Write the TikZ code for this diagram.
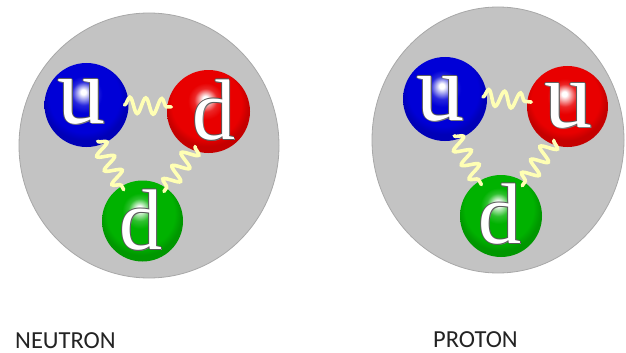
\documentclass[tikz,border=0pt]{standalone}
\usepackage{fontspec}
\newfontfamily\captionfont{Carlito}
\newfontfamily\quarkfont{Liberation Serif}
\usetikzlibrary{decorations.pathmorphing}

\definecolor{hadronfill}{RGB}{195,195,195}
\definecolor{hadronrim}{RGB}{168,168,168}
\definecolor{qblue}{RGB}{0,0,215}
\definecolor{qred}{RGB}{232,0,0}
\definecolor{qgreen}{RGB}{0,178,0}
\definecolor{gluoncol}{RGB}{255,255,180}
\definecolor{captioncol}{RGB}{35,35,35}

% glossy quark spheres: small white highlight above the centre
\pgfdeclareradialshading{qballblue}{\pgfqpoint{-2bp}{8bp}}{%
  color(0bp)=(white); color(1.5bp)=(white); color(7bp)=(qblue!85!white);
  color(11bp)=(qblue); color(21bp)=(qblue); color(25bp)=(qblue!85!black);
  color(50bp)=(qblue!85!black)}
\pgfdeclareradialshading{qballred}{\pgfqpoint{-2bp}{8bp}}{%
  color(0bp)=(white); color(1.5bp)=(white); color(7bp)=(qred!85!white);
  color(11bp)=(qred); color(21bp)=(qred); color(25bp)=(qred!85!black);
  color(50bp)=(qred!85!black)}
\pgfdeclareradialshading{qballgreen}{\pgfqpoint{-2bp}{8bp}}{%
  color(0bp)=(white); color(1.5bp)=(white); color(7bp)=(qgreen!82!white);
  color(11bp)=(qgreen); color(21bp)=(qgreen); color(25bp)=(qgreen!85!black);
  color(50bp)=(qgreen!85!black)}

% white quark letter with a thin dark rim and a drop shadow
\newcommand\qglyph[2]{{\quarkfont\fontsize{#1}{#1}\selectfont
  \makebox[0pt][l]{\smash{\kern1.4pt\raisebox{-1.4pt}{\color{black!50}#2}}}%
  \makebox[0pt][l]{\smash{\kern0.6pt{\color{black!65}#2}}}%
  \makebox[0pt][l]{\smash{\kern-0.6pt{\color{black!65}#2}}}%
  \makebox[0pt][l]{\smash{\raisebox{0.6pt}{\color{black!65}#2}}}%
  \makebox[0pt][l]{\smash{\raisebox{-0.6pt}{\color{black!65}#2}}}%
  {\color{white}#2}}}

\tikzset{
  hadron/.style={fill=hadronfill, draw=hadronrim, line width=0.8pt},
  quark/.style={circle, inner sep=0pt, outer sep=-4pt, shade, minimum size=#1},
  quark/.default=84pt,
  qletter/.style={inner sep=0pt},
  gluon/.style={draw=gluoncol, line width=3.6pt, line cap=round, decorate,
    decoration={snake, amplitude=8pt, segment length=16pt}},
  captiontext/.style={inner sep=0pt, anchor=base west, text=captioncol,
    text depth=0pt, font=\captionfont\fontsize{24.5}{28}\selectfont}
}

\begin{document}
\begin{tikzpicture}[x=1pt, y=-1pt]
\useasboundingbox (0,0) rectangle (626,353);

% ---------- neutron: u d d ----------
\filldraw[hadron] (149,145.5) ellipse [x radius=130pt, y radius=132.5pt];
\node[quark=84pt, shading=qballblue]  (nu)  at (86.5,105)   {};
\node[quark=83pt, shading=qballred]   (nd1) at (208.5,111.5) {};
\node[quark=81pt, shading=qballgreen] (nd2) at (142.5,221)  {};
\node[qletter] (nu-l)  at (81.5,101.5) {\qglyph{96}{u}};
\node[qletter] (nd1-l) at (213.5,110)  {\qglyph{86}{d}};
\node[qletter] (nd2-l) at (141,220)    {\qglyph{86}{d}};
\draw[gluon] (nu.0)   -- (nd1.173);
\draw[gluon] (nu.-73) -- (nd2.121);
\draw[gluon] (nd1.-111) -- (nd2.54);

% ---------- proton: u u d ----------
\filldraw[hadron] (498,140) ellipse [x radius=126pt, y radius=133pt];
\node[quark=84pt, shading=qballblue]  (pu1) at (445,99)    {};
\node[quark=81pt, shading=qballred]   (pu2) at (567.5,106.5) {};
\node[quark=82pt, shading=qballgreen] (pd)  at (501,216)   {};
\node[qletter] (pu1-l) at (440.5,98.5) {\qglyph{96}{u}};
\node[qletter] (pu2-l) at (568.5,105.5) {\qglyph{96}{u}};
\node[qletter] (pd-l)  at (500,214)    {\qglyph{86}{d}};
\draw[gluon] (pu1.3)   -- (pu2.173);
\draw[gluon] (pu1.-76) -- (pd.122);
\draw[gluon] (pu2.-112) -- (pd.55);

% ---------- captions ----------
\node[captiontext] (neutron-cap) at (15,348) {NEUTRON};
\node[captiontext] (proton-cap)  at (433,347) {PROTON};
\end{tikzpicture}
\end{document}
